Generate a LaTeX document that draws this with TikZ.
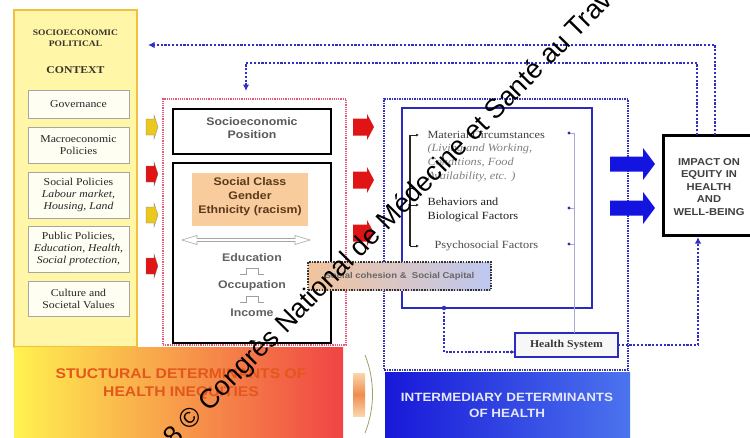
\documentclass[tikz,border=0pt]{standalone}
\usepackage{fontspec}
\setmainfont[FakeStretch=1.12]{Liberation Serif}
\setsansfont[FakeStretch=1.12]{Liberation Sans}
\newfontfamily\wmfont{Liberation Sans}
\usetikzlibrary{arrows.meta}
\definecolor{colfill}{HTML}{FFF6A8}
\definecolor{colborder}{HTML}{F0C040}
\definecolor{dotblue}{HTML}{3030C4}
\definecolor{boxblue}{HTML}{2B2BC0}
\definecolor{pinkdot}{HTML}{E85878}
\definecolor{orangebox}{HTML}{F8CC9C}
\definecolor{sctext}{HTML}{5A3A1A}
\definecolor{arryellow}{HTML}{EBC81E}
\definecolor{arrred}{HTML}{E01414}
\definecolor{arrblue}{HTML}{1414E0}
\definecolor{sdtext}{HTML}{E4571C}
\definecolor{idtext}{HTML}{E4E8F8}
\definecolor{linelav}{HTML}{A8A8D0}
\newcommand\myfs[2]{\fontsize{#1}{#2}\selectfont}
% style, x0, xhead, xtip, yc, body half, head half
\newcommand\blockarr[7]{%
  \path[#1] (#2,#5-#6) -- (#3,#5-#6) -- (#3,#5-#7) -- (#4,#5) -- (#3,#5+#7) -- (#3,#5+#6) -- (#2,#5+#6) -- cycle;}
\begin{document}
\begin{tikzpicture}[x=1pt,y=-1pt,
  bx/.style={inner sep=0pt, outer sep=0pt},
  ctxcol/.style={bx, draw=colborder, fill=colfill, line width=2pt, minimum width=123pt, minimum height=337pt},
  titletext/.style={align=center, font=\bfseries\myfs{8.5}{11}, text=black!80!olive},
  ctxbox/.style={bx, draw=gray!70, fill=white!95!yellow, line width=0.9pt, minimum width=101pt, align=center, font=\myfs{10.5}{12}, text=black!85},
  pinkbox/.style={bx, draw=pinkdot, line width=1.2pt, dash pattern=on 1.2pt off 1pt, minimum width=183pt, minimum height=246pt},
  thickbox/.style={bx, draw=black, line width=2.6pt, fill=white},
  sanstext/.style={align=center, font=\sffamily\bfseries\myfs{11}{13}, text=black!65},
  bluedot/.style={bx, draw=dotblue, line width=1.4pt, dash pattern=on 1.5pt off 1pt, minimum width=244pt, minimum height=271pt},
  innerblue/.style={bx, draw=boxblue, line width=1.8pt, minimum width=190pt, minimum height=200pt},
  factext/.style={align=left, anchor=west, font=\myfs{11}{13.7}},
  feedback/.style={draw=dotblue, line width=2.6pt, dash pattern=on 2.2pt off 1.6pt},
  tip/.style={-{Latex[length=6.5pt,width=6.5pt]}},
  banner/.style={align=center, font=\sffamily\bfseries\myfs{14}{18}}]
\useasboundingbox (0,0) rectangle (750,437);
\clip (0,0) rectangle (750,437);
\fill[white] (0,0) rectangle (750,437);

% ---------- socioeconomic political context ----------
\node[ctxcol] (ctx) at (75.5,178.5) {};
\node[titletext] (ctxt1) at (75.5,38.5) {SOCIOECONOMIC\\POLITICAL};
\node[titletext, font=\bfseries\myfs{10.5}{12}] (ctxt2) at (75.5,70) {CONTEXT};
\node[ctxbox, minimum height=28pt] (gov) at (78.5,104) {Governance};
\node[ctxbox, minimum height=36pt] (macro) at (78.5,145) {Macroeconomic\\Policies};
\node[ctxbox, minimum height=46pt] (socpol) at (78.5,195) {Social Policies\\\textit{Labour market,}\\\textit{Housing, Land}};
\node[ctxbox, minimum height=46pt] (pubpol) at (78.5,249) {Public Policies,\\\textit{Education, Health,}\\\textit{Social protection,}};
\node[ctxbox, minimum height=35pt] (cult) at (78.5,298.5) {Culture and\\Societal Values};

% small arrows from context
\blockarr{fill=arryellow, draw=black!50, line width=0.3pt}{146}{154}{158}{127}{8}{12}
\blockarr{fill=arrred, draw=black!50, line width=0.3pt}{146}{154}{158}{174}{8}{12}
\blockarr{fill=arryellow, draw=black!50, line width=0.3pt}{146}{154}{158}{215}{8}{12}
\blockarr{fill=arrred, draw=black!50, line width=0.3pt}{146}{154}{158}{266}{8}{12}

% ---------- structural block ----------
\node[pinkbox] (mid) at (254.5,222) {};
\node[thickbox, minimum width=158pt, minimum height=45pt] (sep) at (252,131.5) {};
\node[sanstext] (septxt) at (252,128.5) {Socioeconomic\\Position};
\node[thickbox, minimum width=158pt, minimum height=180pt] (low) at (252,253) {};
\node[bx, fill=orangebox, minimum width=116pt, minimum height=53pt] (cls) at (250,199.5) {};
\node[sanstext, text=sctext, font=\sffamily\bfseries\myfs{11}{14}] (clstxt) at (250,197) {Social Class\\Gender\\Ethnicity (racism)};
\draw[gray!70, fill=white, line width=0.6pt]
  (182,240) -- (197,235.5) -- (197,238.5) -- (295,238.5) -- (295,235.5) -- (310,240)
  -- (295,244.5) -- (295,241.5) -- (197,241.5) -- (197,244.5) -- cycle;
\node[sanstext, text=black!62] (edu) at (252,258) {Education};
\node[sanstext, text=black!62] (occ) at (252,286) {Occupation};
\node[sanstext, text=black!62] (inc) at (252,313) {Income};
\draw[gray!75, line width=0.7pt] (240,274) -- (246,274) -- (246,268) -- (258,268) -- (258,274) -- (264,274);
\draw[gray!75, line width=0.7pt] (240,302) -- (246,302) -- (246,296) -- (258,296) -- (258,302) -- (264,302);

% red arrows
\blockarr{fill=arrred}{353}{367}{374}{127}{8.5}{13}
\blockarr{fill=arrred}{353}{367}{374}{180}{8.5}{13}
\blockarr{fill=arrred}{353}{367}{374}{233}{8.5}{13}

% ---------- intermediary block ----------
\node[bluedot] (right) at (506,234.5) {};
\node[innerblue] (inner) at (497,208) {};
\node[factext, text=black!75] (mat) at (424,156) {Material Circumstances\\\textcolor{black!50}{\textit{(Living and Working,}}\\\textcolor{black!50}{\textit{Conditions, Food}}\\\textcolor{black!50}{\textit{Availability, etc. )}}};
\node[factext, text=black!88] (beh) at (424,210) {Behaviors and\\Biological Factors};
\node[factext, text=black!70] (psy) at (431,246) {Psychosocial Factors};
\coordinate (bt) at (410,135);
\coordinate (bm) at (410,205);
\coordinate (bb) at (410,246);
\draw[black!85, line width=1.2pt] (bt) -- (bb);
\draw[black!85, line width=0.8pt, -{Latex[length=3pt,width=3pt]}] (bt) -- (419,135);
\draw[black!85, line width=0.8pt, -{Latex[length=3pt,width=3pt]}] (bm) -- (419,205);
\draw[black!85, line width=0.8pt, -{Latex[length=3pt,width=3pt]}] (bb) -- (419,246);

\node[bx, draw=boxblue, line width=1.8pt, fill=gray!6, minimum width=103pt, minimum height=24pt, font=\bfseries\myfs{10.5}{12}, text=black!78] (hs) at (566.5,345) {Health System};
\coordinate (d1) at (569,133);
\coordinate (d2) at (569,208);
\coordinate (d3) at (569,244);
\draw[linelav, line width=0.8pt] (d1) -- (574,133) -- (hs.north -| 574,0);
\draw[linelav, line width=0.8pt] (d2) -- (574,208);
\draw[linelav, line width=0.8pt] (d3) -- (574,244);
\fill[boxblue] (d1) circle (1.7) (d2) circle (1.7) (d3) circle (1.7);
\coordinate (ib) at (444,308);
\fill[boxblue] (ib) circle (2.2);
\draw[feedback, -{Latex[length=4pt,width=4pt]}] (ib) |- (hs.west |- 0,352);

% blue arrows to impact
\blockarr{fill=arrblue}{610}{643}{655}{164}{7.5}{16}
\blockarr{fill=arrblue}{610}{643}{655}{208}{7.5}{16}

% ---------- impact ----------
\node[thickbox, line width=3pt, minimum width=97pt, minimum height=100pt] (imp) at (711.5,185) {};
\node[align=center, font=\sffamily\bfseries\myfs{10}{12.5}, text=black!75] (imptxt) at (709,187) {IMPACT ON\\EQUITY IN\\HEALTH\\AND\\WELL-BEING};
\draw[feedback, tip] (hs.east) -| ([xshift=-13.5pt, yshift=-2pt]imp.south);

% feedback loops
\coordinate (fbo) at (715,45);
\coordinate (fboend) at (148,45);
\coordinate (fbi) at (697,63);
\coordinate (fbic) at (246,63);
\coordinate (fbiend) at (246,91);
\draw[feedback, tip] (imp.north -| fbo) |- (fboend);
\draw[feedback, tip] (imp.north -| fbi) |- (fbic) -- (fbiend);

% ---------- banners ----------
\node[bx, minimum width=329pt, minimum height=93pt, left color={rgb,255:red,255;green,242;blue,80}, middle color={rgb,255:red,248;green,172;blue,72}, right color={rgb,255:red,240;green,68;blue,68}] (sd) at (178.5,393.5) {};
\node[banner, text=sdtext] (sdtxt) at (181,384) {STUCTURAL DETERMINANTS OF\\HEALTH INEQUITIES};
\shade[top color={rgb,255:red,250;green,214;blue,170}, bottom color={rgb,255:red,250;green,214;blue,170}, middle color={rgb,255:red,240;green,140;blue,80}] (353,373) rectangle (365,416);
\draw[black!40!olive!60, line width=0.8pt] (365,355) .. controls (375,380) and (375,408) .. (365,433);
\node[bx, minimum width=245pt, minimum height=68pt, left color={rgb,255:red,24;green,24;blue,216}, right color={rgb,255:red,76;green,116;blue,238}] (id) at (507.5,406) {};
\node[banner, text=idtext, font=\sffamily\bfseries\myfs{12}{16}] (idtxt) at (507,405) {INTERMEDIARY DETERMINANTS\\OF HEALTH};

% ---------- social cohesion ----------
\node[bx, draw=black!80, line width=2.2pt, dash pattern=on 1.5pt off 1.2pt, minimum width=183pt, minimum height=28pt, left color={rgb,255:red,242;green,196;blue,156}, right color={rgb,255:red,190;green,200;blue,242}, font=\sffamily\bfseries\myfs{8.5}{10}, text=black!60] (coh) at (399.5,276) {Social cohesion \&\ \ Social Capital};

% ---------- watermark ----------
\node[inner sep=0pt, anchor=base west, rotate=45.4, font=\wmfont\myfs{27}{30}, text=black] (wm) at (174,447.8) {8 © Congrès National de Médecine et Santé au Travail};
\end{tikzpicture}
\end{document}
